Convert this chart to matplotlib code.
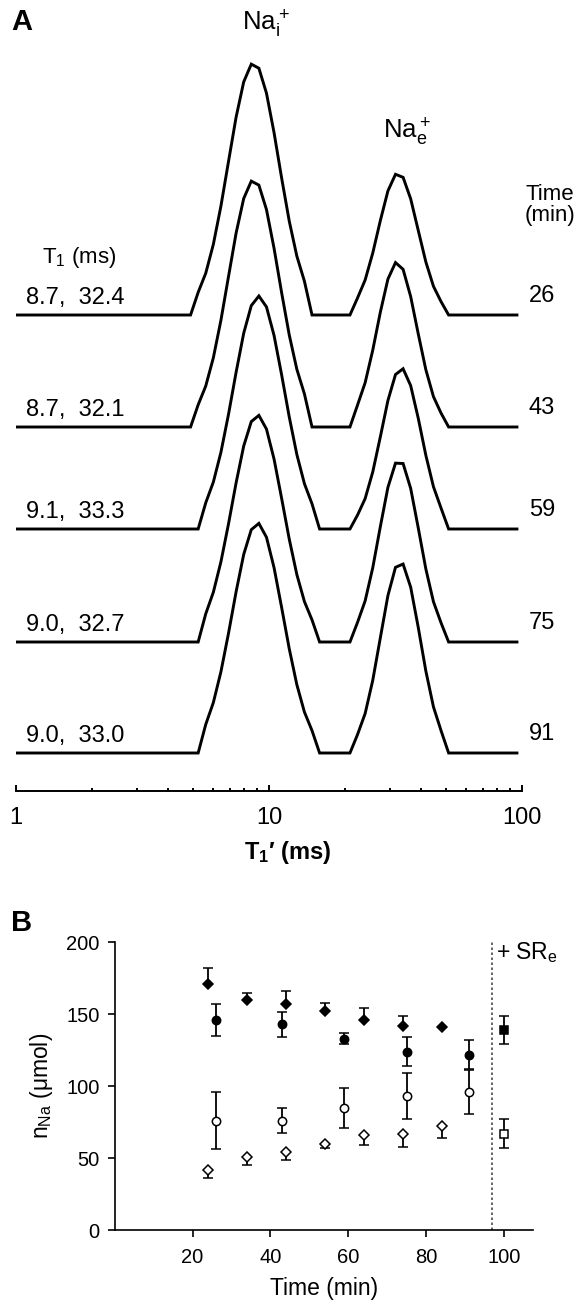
import matplotlib
matplotlib.use('Agg')
import matplotlib.pyplot as plt
from matplotlib.ticker import FixedLocator, LogLocator, NullFormatter
import numpy as np

plt.rcParams['font.family'] = ['Liberation Sans', 'DejaVu Sans']
plt.rcParams['mathtext.default'] = 'regular'

# --- A: T1 distributions recorded at successive times ---
times_a = [26, 43, 59, 75, 91]            # min
t1_in = [8.7, 8.7, 9.1, 9.0, 9.0]         # ms, intracellular peak
t1_out = [32.4, 32.1, 33.3, 32.7, 33.0]   # ms, extracellular peak
amp_in = [252, 247, 233, 227, 230]        # a.u.
amp_out = [142, 165, 161, 182, 191]       # a.u.

# --- B: sodium content vs time ---
dia_t = [24, 34, 44, 54, 64, 74, 84]
dia_full = [171, 160, 157, 152, 146, 142, 141]
dia_full_err = [11, 5, 9, 6, 8, 7, 0]
dia_open = [42, 51, 54, 60, 66, 67, 72]
dia_open_err = [6, 6, 5, 3, 7, 9, 8]
circ_t = [26, 43, 59, 75, 91]
circ_full = [146, 143, 133, 124, 122]
circ_full_err = [11, 8.5, 4, 10, 10]
circ_open = [76, 76, 85, 93, 96]
circ_open_err = [20, 8.5, 14, 16, 15.5]
sq_t = [100]
sq_full = [139]
sq_full_err = [10]
sq_open = [67]
sq_open_err = [10]

W, H = 580, 1301
fig = plt.figure(figsize=(W / 100, H / 100), dpi=100)

# stacked spectra, one per time point
axA = fig.add_axes([16 / W, 1 - 790.7 / H, 506 / W, 750 / H])
offsets = [475.7, 363.7, 261.7, 148.7, 37.7]
logt = np.arange(0, 2.0001, 0.03)
t = 10 ** logt


def peak(center, amp, sigma):
    g = amp * np.exp(-0.5 * ((logt - np.log10(center)) / sigma) ** 2)
    g[g < 0.08 * amp] = 0
    return g


for i in range(len(times_a)):
    y = peak(t1_in[i], amp_in[i], 0.100) + peak(t1_out[i], amp_out[i], 0.078)
    axA.plot(t, y + offsets[i], color='black', lw=2.1, solid_joinstyle='miter')
    axA.text(1.095, offsets[i] + 17, f'{t1_in[i]:.1f},  {t1_out[i]:.1f}',
             fontsize=17, va='center', ha='left')
    axA.text(120, offsets[i] + 19, str(times_a[i]), fontsize=17,
             va='center', ha='center', clip_on=False)

axA.set_xscale('log')
axA.set_xlim(1, 100)
axA.set_ylim(0, 750)
for s in ['top', 'left', 'right']:
    axA.spines[s].set_visible(False)
axA.spines['bottom'].set_linewidth(1.4)
axA.set_yticks([])
axA.xaxis.set_major_locator(FixedLocator([1, 10, 100]))
axA.set_xticklabels(['1', '10', '100'])
axA.xaxis.set_minor_locator(LogLocator(base=10, subs=np.arange(2, 10)))
axA.xaxis.set_minor_formatter(NullFormatter())
axA.tick_params(axis='x', which='major', direction='in', length=4, width=1.4,
                labelsize=17, pad=12)
axA.tick_params(axis='x', which='minor', direction='in', length=2, width=1.4)

fig.text(22 / W, 1 - 22 / H, 'A', fontsize=21, fontweight='bold',
         ha='center', va='center')
fig.text(266 / W, 1 - 24 / H, r'Na$_i^+$', fontsize=18.5, ha='center', va='center')
fig.text(407 / W, 1 - 132 / H, r'Na$_e^+$', fontsize=18.5, ha='center', va='center')
fig.text(79 / W, 1 - 257 / H, r'T$_1$ (ms)', fontsize=16, ha='center', va='center')
fig.text(550 / W, 1 - 205 / H, 'Time\n(min)', fontsize=16, ha='center',
         va='center', linespacing=1.05)
fig.text(288 / W, 1 - 852 / H, r'T$_1$′ (ms)', fontsize=17, fontweight='bold',
         ha='center', va='center')

# sodium content panel
axB = fig.add_axes([114.8 / W, 1 - 1230 / H, 418.5 / W, 287.7 / H])
eb = dict(color='black', ecolor='black', capsize=3.5, elinewidth=1.3,
          capthick=1.3, mew=1.1, linestyle='none')
z7 = np.zeros(len(dia_t))
axB.errorbar(dia_t, dia_full, yerr=[z7, dia_full_err], fmt='D', ms=5,
             mfc='black', **eb)
axB.errorbar(dia_t, dia_open, yerr=[dia_open_err, z7], fmt='D', ms=5,
             mfc='white', **eb)
axB.errorbar(circ_t, circ_full, yerr=circ_full_err, fmt='o', ms=6,
             mfc='black', **eb)
axB.errorbar(circ_t, circ_open, yerr=circ_open_err, fmt='o', ms=6,
             mfc='white', **eb)
axB.errorbar(sq_t, sq_full, yerr=sq_full_err, fmt='s', ms=5.5,
             mfc='black', **eb)
axB.errorbar(sq_t, sq_open, yerr=sq_open_err, fmt='s', ms=5.5,
             mfc='white', **eb)
axB.axvline(97, ls=(0, (1.5, 1.5)), lw=1.2, color='0.3')
axB.text(98, 193, r'+ SR$_e$', fontsize=16.5, va='center', ha='left',
         clip_on=False)

axB.set_xlim(0, 107.6)
axB.set_ylim(0, 200)
axB.set_xticks([20, 40, 60, 80, 100])
axB.set_yticks([0, 50, 100, 150, 200])
for s in ['top', 'right']:
    axB.spines[s].set_visible(False)
for s in ['left', 'bottom']:
    axB.spines[s].set_linewidth(1.2)
axB.tick_params(axis='both', labelsize=14.5, width=1.2, length=5)
axB.tick_params(axis='x', pad=8)
axB.tick_params(axis='y', pad=6)
axB.set_xlabel('Time (min)', fontsize=16.5, labelpad=7)
axB.set_ylabel(r'n$_{Na}$ (μmol)', fontsize=16.5, labelpad=8)

fig.text(22 / W, 1 - 923 / H, 'B', fontsize=21, fontweight='bold',
         ha='center', va='center')

fig.savefig('out.png', dpi=100)
